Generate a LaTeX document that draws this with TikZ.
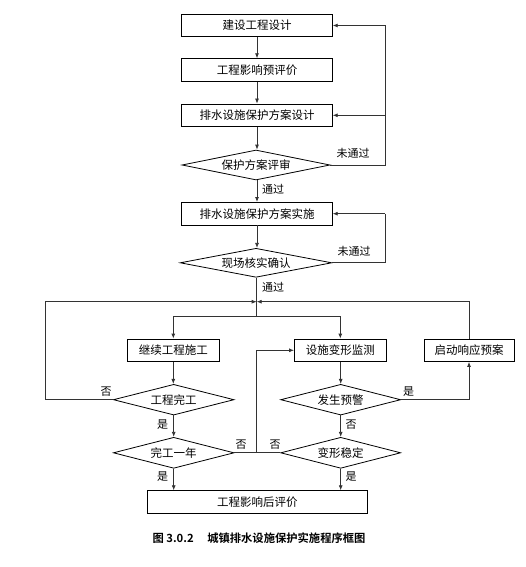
\documentclass[tikz,border=0pt]{standalone}
\usepackage{fontspec}
\setmainfont{Noto Sans CJK SC}
\newfontfamily\capfont{Noto Sans CJK SC}[BoldFont={* Bold}]
\usetikzlibrary{shapes.geometric,arrows.meta}
\tikzset{
  every node/.style={font=\fontsize{11.5}{13}\selectfont},
  boxn/.style={draw,line width=0.8pt,rectangle,inner sep=0pt,minimum height=22.6pt},
  dia/.style={draw,line width=0.8pt,diamond,inner sep=0pt,shape aspect=4.9},
  conn/.style={line width=0.8pt,draw=black!80},
  arr/.style={conn,-{Latex[length=5pt,width=4pt]}},
  lbl/.style={inner sep=0pt,font=\fontsize{11}{13}\selectfont}
}
\begin{document}
\begin{tikzpicture}[x=1pt,y=-1pt]
\useasboundingbox (0,0) rectangle (525,567);
% main column
\node[boxn,minimum width=150.6pt] (b1) at (257,25.5) {建设工程设计};
\node[boxn,minimum width=150.6pt] (b2) at (257,70) {工程影响预评价};
\node[boxn,minimum width=150.6pt] (b3) at (257,115.3) {排水设施保护方案设计};
\node[dia,minimum width=148pt,minimum height=30pt] (d1) at (256,165) {保护方案评审};
\node[boxn,minimum width=150.6pt] (b4) at (257,213.7) {排水设施保护方案实施};
\node[dia,minimum width=151.7pt,minimum height=29pt] (d2) at (256,262.8) {现场核实确认};
\coordinate (J) at (256.7,301.7);
\coordinate (J2) at (256.7,316);
% lower part
\node[boxn,minimum width=92pt] (bA) at (173.3,350.3) {继续工程施工};
\node[boxn,minimum width=91.7pt] (bB) at (340.3,350.3) {设施变形监测};
\node[boxn,minimum width=90pt] (bC) at (469,350.2) {启动响应预案};
\node[dia,minimum width=120.7pt,minimum height=30.7pt] (dA) at (173.7,399.7) {工程完工};
\node[dia,minimum width=120.7pt,minimum height=31pt] (dB) at (173.7,452.8) {完工一年};
\node[dia,minimum width=120pt,minimum height=30.7pt] (dC) at (340.7,399.7) {发生预警};
\node[dia,minimum width=120pt,minimum height=31pt] (dD) at (340.7,452.8) {变形稳定};
\node[boxn,minimum width=220pt] (bF) at (257.3,502) {工程影响后评价};
\coordinate (K) at (256.7,452.8);
% connectors top
\draw[arr] (b1) -- (b2);
\draw[arr] (b2) -- (b3);
\draw[arr] (b3) -- (d1.north -| b3);
\draw[arr] (d1.south -| b4) -- (b4);
\draw[arr] (b4) -- (d2.north -| b4);
\draw[conn] (d1.east) -- (385,165) -- (385,25.5);
\draw[arr] (385,25.5) -- (b1.east);
\draw[arr] (385,115.3) -- (b3.east);
\draw[conn] (d2.east) -- (385,262.8) -- (385,213.7);
\draw[arr] (385,213.7) -- (b4.east);
\draw[conn] (d2.south -| J) -- (J2);
\draw[arr] (J2) -| (bA.north);
\draw[arr] (J2) -| (bB.north);
\draw[arr] (dA.west) -- (45,399.7) -- (45,301.7) -- (J);
\draw[arr] (bC.north) |- (J);
% lower connectors
\draw[arr] (bA) -- (dA.north -| bA);
\draw[arr] (dA.south) -- (dB.north);
\draw[arr] (dB.south) -- (dB.south |- bF.north);
\draw[arr] (bB.south -| dC) -- (dC.north);
\draw[arr] (dC.south) -- (dD.north);
\draw[arr] (dD.south) -- (dD.south |- bF.north);
\draw[arr] (dC.east) -| (bC.south);
\draw[conn] (dB.east) -- (K);
\draw[conn] (dD.west) -- (K);
\draw[arr] (K) |- (bB.west);
% labels
\node[lbl] (l1) at (353,153.5) {未通过};
\node[lbl] (l2) at (354,251.7) {未通过};
\node[lbl] (l3) at (273,189.5) {通过};
\node[lbl] (l4) at (273,287.3) {通过};
\node[lbl] (l5) at (106,391.7) {否};
\node[lbl] (l6) at (162.7,425) {是};
\node[lbl] (l7) at (162.7,476.7) {是};
\node[lbl] (l8) at (241,445) {否};
\node[lbl] (l9) at (275,445) {否};
\node[lbl] (l10) at (408.5,391.7) {是};
\node[lbl] (l11) at (351,425) {否};
\node[lbl] (l12) at (351,476.7) {是};
\node[inner sep=0pt,font=\capfont\bfseries\fontsize{11.3}{13}\selectfont] (cap) at (259,538.3) {图 3.0.2\hspace{1.2em}城镇排水设施保护实施程序框图};
\end{tikzpicture}
\end{document}
